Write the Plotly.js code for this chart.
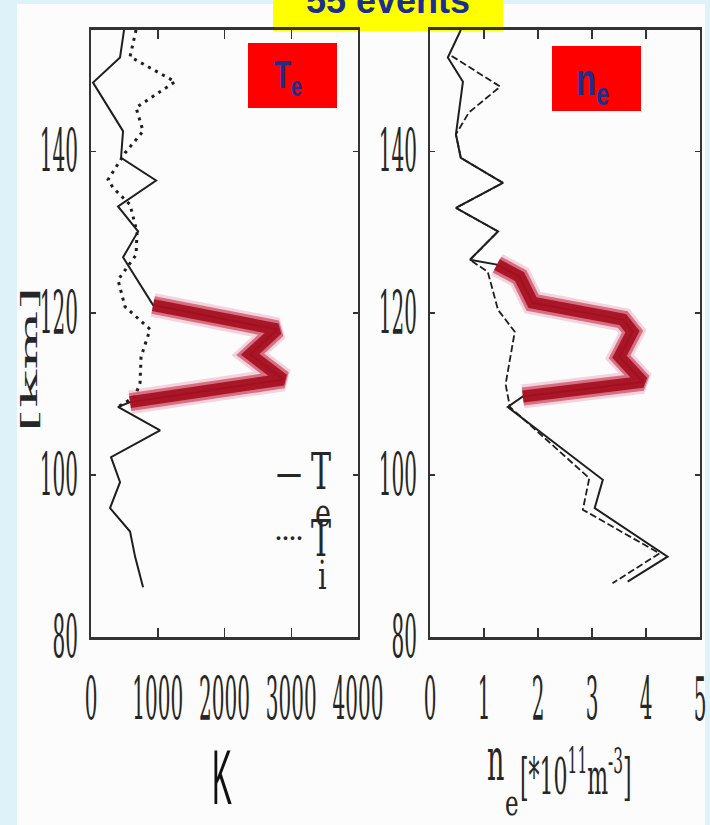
<!DOCTYPE html>
<html>
<head>
<meta charset="utf-8">
<script src="https://cdn.plot.ly/plotly-3.0.1.min.js"></script>
<style>
  html, body { margin: 0; padding: 0; background: #def3f9; }
  #chart { width: 710px; height: 825px; }
</style>
</head>
<body>
<div id="chart"></div>
<script>
// Mean altitude profiles (55 events): electron / ion temperature and electron density
const teAlt = [155, 151.6, 148.5, 142.5, 139.2, 136.4, 133.2, 130.1, 126.9, 121.0, 118.0, 114.9, 111.8, 109.0, 108.4, 105.5, 102.2, 99.1, 95.9, 93.0, 89.9, 86.1];
const teK   = [495, 435, 30, 480, 450, 975, 405, 705, 480, 930, 2790, 2385, 2880, 585, 405, 1035, 300, 435, 285, 585, 660, 780];

const tiAlt = [155, 151.7, 148.6, 145.4, 142.5, 139.8, 136.5, 135.5, 133.4, 130.0, 127.2, 124.1, 120.8, 118.0, 114.6, 111.4, 109.7, 108.4];
const tiK   = [675, 585, 1260, 675, 780, 510, 255, 330, 585, 690, 675, 405, 510, 885, 750, 735, 660, 405];

const neAlt = [155, 151.6, 148.6, 142.1, 139.2, 136.1, 133.0, 130.1, 126.6, 126.0, 124.5, 121.3, 119.2, 117.7, 114.6, 111.5, 109.7, 108.4, 99.4, 95.9, 89.9, 86.8];
const neVal = [0.57, 0.33, 0.61, 0.48, 0.57, 1.35, 0.48, 1.26, 0.74, 1.24, 1.66, 1.90, 3.57, 3.75, 3.51, 3.94, 1.72, 1.44, 3.20, 3.05, 4.40, 3.66];

const ne2Alt = [151.8, 148.0, 144.8, 142.1, 139.2, 136.1, 133.0, 130.1, 126.6, 125.1, 120.4, 117.7, 111.2, 108.4, 99.6, 95.7, 90.3, 86.6];
const ne2Val = [0.40, 1.30, 0.72, 0.48, 0.57, 1.35, 0.48, 1.26, 0.74, 1.07, 1.26, 1.57, 1.40, 1.48, 2.95, 2.83, 4.25, 3.38];

// altitude window of the highlighted layer in each panel
const teLayer = [108.9, 121.5];
const neLayer = [109.5, 126.3];

const tempTicks = [0, 1000, 2000, 3000, 4000];
const neTicks = [0, 1, 2, 3, 4, 5];
const altTicks = [80, 100, 120, 140];

// ---- helpers ----
const W = 710, H = 825;
const px = x => x / W;
const py = y => 1 - y / H;

function layerPart(alt, val, win) {
  const a = [], v = [];
  alt.forEach((h, i) => { if (h >= win[0] && h <= win[1]) { a.push(h); v.push(val[i]); } });
  return { a, v };
}

const ink = '#1e1e1e';
const traces = [];

function profile(x, y, xa, ya, line) {
  traces.push({ type: 'scatter', mode: 'lines', x, y, xaxis: xa, yaxis: ya, line, hoverinfo: 'skip', showlegend: false });
}
function highlight(x, y, xa, ya) {
  profile(x, y, xa, ya, { color: 'rgba(210,55,105,0.20)', width: 24 });
  profile(x, y, xa, ya, { color: 'rgba(190,28,55,0.55)', width: 18 });
  profile(x, y, xa, ya, { color: 'rgba(165,14,30,0.92)', width: 12 });
}

// temperature panel
profile(tiK, tiAlt, 'x', 'y', { color: ink, width: 3, dash: '3px,5px' });
profile(teK, teAlt, 'x', 'y', { color: ink, width: 2 });
const teHi = layerPart(teAlt, teK, teLayer);
highlight(teHi.v, teHi.a, 'x', 'y');

// density panel
profile(ne2Val, ne2Alt, 'x2', 'y2', { color: ink, width: 1.8, dash: '7px,3px' });
profile(neVal, neAlt, 'x2', 'y2', { color: ink, width: 2 });
const neHi = layerPart(neAlt, neVal, neLayer);
highlight(neHi.v, neHi.a, 'x2', 'y2');

const serif = 'DejaVu Serif, Liberation Serif, serif';
const sans = 'Liberation Sans, Arial, sans-serif';
const navy = '#1b2f8f';
const grey = '#262626';

const tickFont = { family: serif, size: 20, color: grey };
function xAxis(dom, range, ticks, anchor) {
  return {
    domain: dom, range, anchor, tickvals: ticks, ticktext: ticks.map(String),
    ticks: 'inside', ticklen: 9, tickwidth: 1.5, tickcolor: '#333',
    showline: true, linewidth: 3, linecolor: '#333', mirror: 'ticks',
    showgrid: false, zeroline: false, tickfont: tickFont, ticklabelstandoff: 42, fixedrange: true
  };
}
function yAxis(anchor) {
  return {
    domain: [py(636.7), py(30)], range: [80, 155], anchor, tickvals: altTicks, ticktext: altTicks.map(String),
    ticks: 'inside', ticklen: 5, tickwidth: 1.5, tickcolor: '#333',
    showline: true, linewidth: 2, linecolor: '#333', mirror: 'ticks',
    showgrid: false, zeroline: false, tickfont: tickFont, ticklabelstandoff: 7, fixedrange: true
  };
}

// annotations; k is the vertical stretch given to each text
const notes = [
  { text: '<b>55 events</b>', x: 388, y: 22, anchorY: 'bottom', font: { family: sans, size: 36, color: navy }, k: 1 },
  { text: '<b>T<sub>e</sub></b>', x: 288, y: 78, font: { family: sans, size: 28, color: navy }, k: 1.4 },
  { text: '<b>n<sub>e</sub></b>', x: 592, y: 83, font: { family: sans, size: 33, color: navy }, k: 1.35 },
  { text: '[km]', x: 30, y: 360, angle: -90, font: { family: serif, size: 22, color: grey }, k: 2.85 },
  { text: 'K', x: 222, y: 776, font: { family: sans, size: 30, color: '#111' }, k: 2.6 },
  { text: 'n', x: 496, y: 759, font: { family: serif, size: 27, color: grey }, k: 2.2 },
  { text: 'e', x: 512, y: 803, font: { family: serif, size: 23, color: grey }, k: 1.5 },
  { text: '[*10<sup>11</sup>m<sup>-3</sup>]', x: 576, y: 773, font: { family: serif, size: 22, color: grey }, k: 2.3 },
  { text: '<b>—</b>', x: 289, y: 473, font: { family: serif, size: 26, color: grey }, k: 1 },
  { text: 'T', x: 321, y: 471, font: { family: serif, size: 30, color: grey }, k: 1.7 },
  { text: 'e', x: 323, y: 512, font: { family: serif, size: 27, color: grey }, k: 1.45 },
  { text: '<b>····</b>', x: 289, y: 538, font: { family: serif, size: 20, color: grey }, k: 1 },
  { text: 'T', x: 321, y: 538, font: { family: serif, size: 30, color: grey }, k: 1.7 },
  { text: 'i', x: 322, y: 575, font: { family: serif, size: 27, color: grey }, k: 1.45 }
];

const annotations = notes.map(n => ({
  text: n.text, xref: 'paper', yref: 'paper', x: px(n.x), y: py(n.y),
  xanchor: 'center', yanchor: n.anchorY || 'middle', showarrow: false,
  textangle: n.angle || 0, font: n.font, borderpad: 0
}));

const shapes = [
  { type: 'rect', xref: 'paper', yref: 'paper', x0: px(17), x1: px(705), y0: py(830), y1: py(4), fillcolor: '#fcfcfc', line: { width: 0 }, layer: 'below' },
  { type: 'rect', xref: 'paper', yref: 'paper', x0: px(273), x1: px(503), y0: py(31), y1: py(-10), fillcolor: '#ffff00', line: { width: 0 }, layer: 'below' },
  { type: 'rect', xref: 'paper', yref: 'paper', x0: px(248), x1: px(337), y0: py(108), y1: py(43), fillcolor: '#ff0000', line: { width: 0 }, layer: 'below' },
  { type: 'rect', xref: 'paper', yref: 'paper', x0: px(552), x1: px(641), y0: py(111), y1: py(46), fillcolor: '#ff0000', line: { width: 0 }, layer: 'below' }
];

const layout = {
  width: W, height: H,
  margin: { l: 0, r: 0, t: 0, b: 0, pad: 0 },
  paper_bgcolor: '#def3f9', plot_bgcolor: 'rgba(0,0,0,0)',
  showlegend: false,
  xaxis: xAxis([px(91), px(358)], [0, 4000], tempTicks, 'y'),
  yaxis: yAxis('x'),
  xaxis2: xAxis([px(430), px(700)], [0, 5], neTicks, 'y2'),
  yaxis2: yAxis('x2'),
  shapes, annotations
};

// stretch a text element vertically on screen, about its own centre
function stretch(el, k) {
  if (!el || k === 1) return;
  const bb = el.getBBox();
  const M = DOMMatrix.fromMatrix(el.getCTM());
  const P = DOMMatrix.fromMatrix(el.parentNode.getCTM());
  const c = new DOMPoint(bb.x + bb.width / 2, bb.y + bb.height / 2).matrixTransform(M);
  const S = new DOMMatrix().translate(c.x, c.y).scale(1, k).translate(-c.x, -c.y);
  const Pi = P.inverse();
  const own = Pi.multiply(M);
  const N = Pi.multiply(S).multiply(P).multiply(own);
  el.setAttribute('transform', `matrix(${N.a},${N.b},${N.c},${N.d},${N.e},${N.f})`);
}

Plotly.newPlot('chart', traces, layout, { staticPlot: true }).then(gd => {
  gd.querySelectorAll('g.xtick text, g.x2tick text, g.ytick text, g.y2tick text').forEach(t => stretch(t, 3.0));
  gd.querySelectorAll('g.annotation').forEach(g => {
    const i = +g.getAttribute('data-index');
    stretch(g.querySelector('text.annotation-text'), notes[i].k);
  });
});
</script>
</body>
</html>
